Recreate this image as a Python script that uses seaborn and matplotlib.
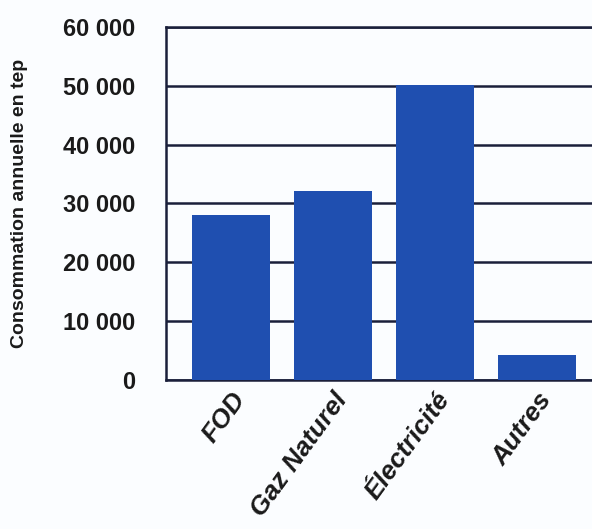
import matplotlib
matplotlib.use("Agg")
import matplotlib.pyplot as plt
import seaborn as sns
import pandas as pd

categories = ["FOD", "Gaz Naturel", "Électricité", "Autres"]
consumption = [28000, 32200, 50200, 4300]
y_ticks = [0, 10000, 20000, 30000, 40000, 50000, 60000]
y_tick_labels = ["0", "10 000", "20 000", "30 000", "40 000", "50 000", "60 000"]

sns.set_theme(style="white")
plt.rcParams["font.family"] = ["Liberation Sans", "DejaVu Sans"]

df = pd.DataFrame({"categorie": categories, "conso": consumption})

fig = plt.figure(figsize=(5.92, 5.29), dpi=100)
fig.patch.set_facecolor("#fbfdff")
ax = fig.add_axes([0.2804, 0.2817, 0.7196, 0.6673])
ax.set_facecolor("#fbfdff")

sns.barplot(data=df, x="categorie", y="conso", color="#1f4fb0",
            saturation=1, width=0.76, linewidth=0, ax=ax, zorder=3)

ax.set_ylim(0, 60000)
ax.set_xlim(-0.64, 3.54)
ax.set_yticks(y_ticks)
ax.set_yticklabels(y_tick_labels, fontsize=17, fontweight="bold", color="#1a1a1a")
ax.yaxis.grid(True, color="#1a1f3a", linewidth=1.8, zorder=1)
ax.set_axisbelow(True)
ax.tick_params(axis="y", length=0, pad=22)
ax.tick_params(axis="x", length=0, pad=6)

ax.set_xticks(range(len(categories)))
ax.set_xticklabels(categories, rotation=54, ha="right", rotation_mode="anchor",
                   fontsize=19, fontweight="bold", fontstyle="italic", color="#1a1a1a")

ax.set_xlabel("")
ax.set_ylabel("Consommation annuelle en tep", fontsize=14, fontweight="bold",
              color="#1a1a1a")
ax.yaxis.set_label_coords(-0.325, 0.5)

for side in ["left", "bottom", "top"]:
    ax.spines[side].set_visible(True)
    ax.spines[side].set_color("#1a1f3a")
    ax.spines[side].set_linewidth(1.8)
ax.spines["right"].set_visible(False)

fig.savefig("out.png", dpi=100, facecolor=fig.get_facecolor())
